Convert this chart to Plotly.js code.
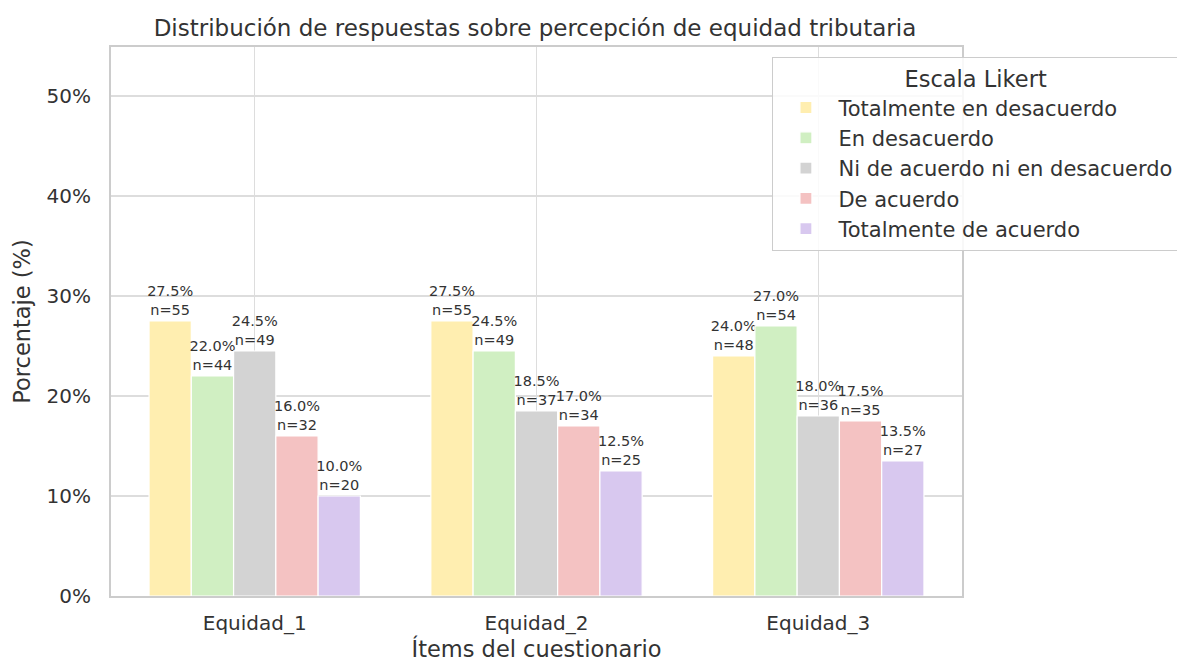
<!DOCTYPE html>
<html>
<head>
<meta charset="utf-8">
<script src="https://cdn.plot.ly/plotly-3.0.1.min.js"></script>
<style>html,body{margin:0;padding:0;background:#fff;overflow:hidden;}#chart{width:1177px;height:662px;}</style>
</head>
<body>
<div id="chart"></div>
<script>
const items = ["Equidad_1", "Equidad_2", "Equidad_3"];
const levels = ["Totalmente en desacuerdo", "En desacuerdo", "Ni de acuerdo ni en desacuerdo", "De acuerdo", "Totalmente de acuerdo"];
const colors = ["#FFEEB0", "#D0EFC2", "#D3D3D3", "#F4C2C2", "#D8C8EF"];
const pctTotDes = [27.5, 27.5, 24.0];
const pctDes = [22.0, 24.5, 27.0];
const pctNi = [24.5, 18.5, 18.0];
const pctAc = [16.0, 17.0, 17.5];
const pctTotAc = [10.0, 12.5, 13.5];
const nTotDes = [55, 55, 48];
const nDes = [44, 49, 54];
const nNi = [49, 37, 36];
const nAc = [32, 34, 35];
const nTotAc = [20, 25, 27];
const yTicks = [0, 10, 20, 30, 40, 50];

const pcts = [pctTotDes, pctDes, pctNi, pctAc, pctTotAc];
const ns = [nTotDes, nDes, nNi, nAc, nTotAc];

const traces = levels.map((lv, i) => ({
  type: "bar",
  name: lv,
  x: items,
  y: pcts[i],
  marker: {color: colors[i], line: {color: "#ffffff", width: 1.2}},
  text: pcts[i].map((v, j) => v.toFixed(1) + "%<br>n=" + ns[i][j]),
  textposition: "outside",
  textfont: {family: "DejaVu Sans", size: 14.5, color: "#333333"},
  constraintext: "none",
  cliponaxis: false,
  hoverinfo: "none"
}));

const layout = {
  width: 1177, height: 662,
  margin: {l: 111, r: 215, t: 47, b: 66, autoexpand: false},
  paper_bgcolor: "#ffffff",
  plot_bgcolor: "#ffffff",
  font: {family: "DejaVu Sans", color: "#333333"},
  barmode: "group",
  bargap: 0.25,
  bargroupgap: 0,
  title: {text: "Distribución de respuestas sobre percepción de equidad tributaria", x: 0.4545, xanchor: "center", y: 0.958, yanchor: "middle", font: {size: 23, color: "#333333"}},
  xaxis: {
    range: [-0.51, 2.51],
    title: {text: "Ítems del cuestionario", font: {size: 22.5, color: "#333333"}, standoff: 12},
    tickfont: {size: 20, color: "#333333"},
    ticklabelstandoff: 8,
    showgrid: true, gridcolor: "#dddddd", gridwidth: 1.3,
    showline: true, linecolor: "#cccccc", linewidth: 2, mirror: true,
    ticks: "", ticklen: 0
  },
  yaxis: {
    range: [0, 54.9],
    tickvals: yTicks,
    ticktext: yTicks.map(v => v + "%"),
    title: {text: "Porcentaje (%)", font: {size: 22.5, color: "#333333"}, standoff: 10},
    tickfont: {size: 20, color: "#333333"},
    ticklabelstandoff: 14,
    showgrid: true, gridcolor: "#dddddd", gridwidth: 1.3,
    zeroline: false,
    showline: true, linecolor: "#cccccc", linewidth: 2, mirror: true,
    ticks: "", ticklen: 0
  },
  legend: {
    x: 0.777, xanchor: "left", y: 0.982, yanchor: "top",
    bgcolor: "rgba(255,255,255,0.85)", bordercolor: "#cccccc", borderwidth: 1.2,
    title: {text: "Escala Likert", font: {size: 22.5, color: "#333333"}, side: "top center"},
    font: {size: 21, color: "#333333"},
    tracegroupgap: 0,
    itemwidth: 55
  },
  showlegend: true
};

Plotly.newPlot("chart", traces, layout, {displayModeBar: false, staticPlot: true});
</script>
</body>
</html>
